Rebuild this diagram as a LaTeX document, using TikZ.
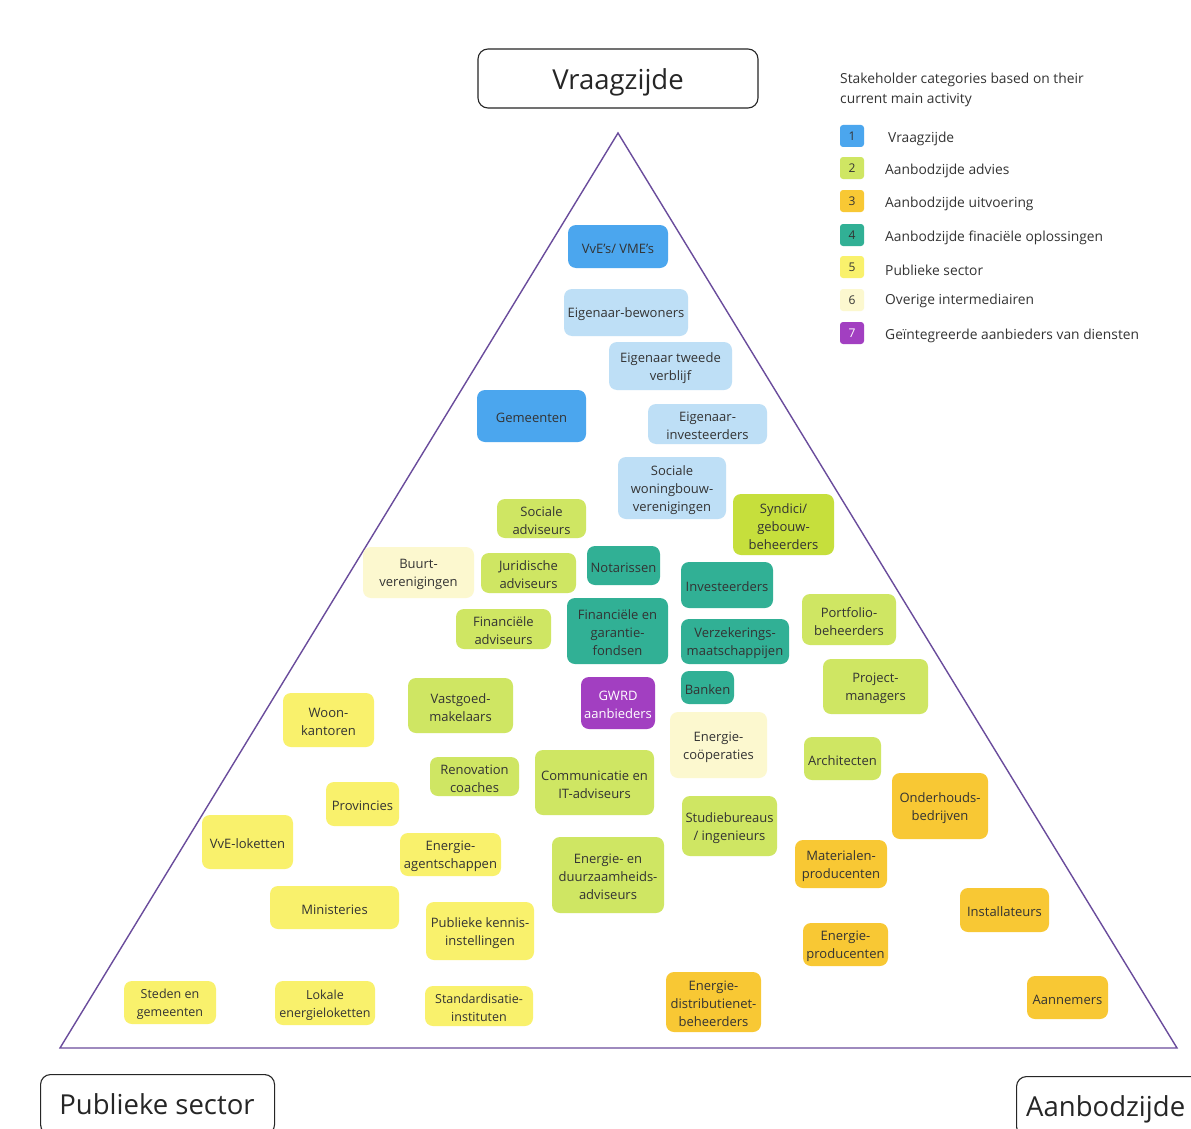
\documentclass[tikz,border=0pt]{standalone}
\usepackage{fontspec}
\setmainfont{Open Sans}
\definecolor{cBlue}{HTML}{4BA6EE}
\definecolor{cLBlue}{HTML}{BEDFF6}
\definecolor{cLime}{HTML}{CFE663}
\definecolor{cLime2}{HTML}{C6DF3C}
\definecolor{cOrange}{HTML}{F8C834}
\definecolor{cTeal}{HTML}{31B095}
\definecolor{cYellow}{HTML}{F9F16C}
\definecolor{cPale}{HTML}{FCF8CF}
\definecolor{cPurple}{HTML}{A23FC1}
\definecolor{cText}{HTML}{333333}
\definecolor{cTri}{HTML}{6A4C9C}
\tikzset{
  box/.style={rounded corners=8pt, inner sep=0pt},
  boxtext/.style={inner sep=0pt, align=center, text=cText,
    font=\fontsize{13}{18}\selectfont},
  title/.style={draw=black!85, line width=1.1pt, rounded corners=10pt, inner sep=0pt},
  titletext/.style={text=black!85, font=\fontsize{27.5}{32}\selectfont, inner sep=0pt},
  legsq/.style={rounded corners=3pt, minimum width=24pt, minimum height=22pt, inner sep=0pt,
    text=cText, font=\fontsize{12}{14}\selectfont},
  legtx/.style={anchor=west, inner sep=0pt, text=cText, font=\fontsize{13.8}{16}\selectfont},
}
% name, x1,y1,x2,y2, fill-style, text-style, text
\newcommand\bx[8]{%
  \pgfmathsetmacro\cx{(#2+#4)/2}\pgfmathsetmacro\cy{(#3+#5)/2}%
  \pgfmathsetmacro\ww{#4-#2}\pgfmathsetmacro\hh{#5-#3}%
  \node[box,#6,minimum width=\ww pt,minimum height=\hh pt] (#1) at (\cx,\cy) {};
  \node[boxtext,#7] (#1t) at ([yshift=-2pt]#1.center) {#8};}
\begin{document}
\begin{tikzpicture}[x=1pt,y=-1pt]
\useasboundingbox (0,0) rectangle (1191,1129);
\clip (0,0) rectangle (1191,1129);
\fill[white] (0,0) rectangle (1191,1129);
% triangle
\coordinate (apex) at (618,133);
\coordinate (bl) at (60,1048);
\coordinate (br) at (1177,1048);
\draw[cTri, line width=1.4pt, line join=miter] (apex) -- (bl) -- (br) -- cycle;
% titles
\node[title, minimum width=280pt, minimum height=59pt] (tV) at (618,78.5) {};
\node[titletext] (tVt) at ([yshift=-3.5pt]tV.center) {Vraagzijde};
\node[title, minimum width=234pt, minimum height=60pt, anchor=north west] (tP) at (40,1074) {};
\node[titletext, anchor=base] (tPt) at (157,1114) {Publieke sector};
\node[title, minimum width=200pt, minimum height=60pt, anchor=north west] (tA) at (1016,1076) {};
\node[titletext, anchor=base west] (tAt) at (1026,1116) {Aanbodzijde};
% legend
\node[legtx, anchor=north west, align=left, font=\fontsize{13.8}{20}\selectfont] (lgT) at (840,73) {Stakeholder categories based on their\\current main activity};
\node[legsq, fill=cBlue] (l1) at (852,136) {1};
\node[legsq, fill=cLime] (l2) at (852,168) {2};
\node[legsq, fill=cOrange] (l3) at (852,201) {3};
\node[legsq, fill=cTeal] (l4) at (852,235) {4};
\node[legsq, fill=cYellow] (l5) at (852,267) {5};
\node[legsq, fill=cPale] (l6) at (852,300) {6};
\node[legsq, fill=cPurple, text=white] (l7) at (852,333) {7};
\node[legtx] (t1) at (888,139) {Vraagzijde};
\node[legtx] (t2) at (885,171) {Aanbodzijde advies};
\node[legtx] (t3) at (885,204) {Aanbodzijde uitvoering};
\node[legtx] (t4) at (885,238) {Aanbodzijde finaciële oplossingen};
\node[legtx] (t5) at (885,270) {Publieke sector};
\node[legtx] (t6) at (885,301) {Overige intermediairen};
\node[legtx] (t7) at (885,336) {Geïntegreerde aanbieders van diensten};
% boxes
\bx{b1}{568}{225}{668}{268}{fill=cBlue}{}{VvE's/ VME's}
\bx{b2}{564}{289}{688}{336}{fill=cLBlue}{}{Eigenaar-bewoners}
\bx{b3}{609}{342}{732}{390}{fill=cLBlue}{}{Eigenaar tweede\\verblijf}
\bx{b4}{477}{390}{586}{442}{fill=cBlue}{}{Gemeenten}
\bx{b5}{648}{404}{767}{444}{fill=cLBlue}{}{Eigenaar-\\investeerders}
\bx{b6}{618}{457}{726}{519}{fill=cLBlue}{}{Sociale\\woningbouw-\\verenigingen}
\bx{b7}{733}{494}{834}{555}{fill=cLime2}{}{Syndici/\\gebouw-\\beheerders}
\bx{b8}{497}{499}{586}{538}{fill=cLime}{}{Sociale\\adviseurs}
\bx{b9}{363}{547}{474}{598}{fill=cPale}{}{Buurt-\\verenigingen}
\bx{b10}{481}{553}{576}{593}{fill=cLime}{}{Juridische\\adviseurs}
\bx{b11}{587}{546}{660}{585}{fill=cTeal}{}{Notarissen}
\bx{b12}{681}{562}{773}{608}{fill=cTeal}{}{Investeerders}
\bx{b13}{456}{609}{551}{649}{fill=cLime}{}{Financiële\\adviseurs}
\bx{b14}{567}{598}{668}{664}{fill=cTeal}{}{Financiële en\\garantie-\\fondsen}
\bx{b15}{681}{619}{789}{664}{fill=cTeal}{}{Verzekerings-\\maatschappijen}
\bx{b16}{802}{594}{896}{645}{fill=cLime}{}{Portfolio-\\beheerders}
\bx{b17}{681}{671}{734}{704}{fill=cTeal}{}{Banken}
\bx{b18}{581}{677}{655}{729}{fill=cPurple}{text=white}{GWRD\\aanbieders}
\bx{b19}{823}{659}{928}{714}{fill=cLime}{}{Project-\\managers}
\bx{b20}{283}{693}{374}{747}{fill=cYellow}{}{Woon-\\kantoren}
\bx{b21}{408}{678}{513}{733}{fill=cLime}{}{Vastgoed-\\makelaars}
\bx{b22}{670}{712}{767}{778}{fill=cPale}{}{Energie-\\coöperaties}
\bx{b23}{430}{757}{519}{796}{fill=cLime}{}{Renovation\\coaches}
\bx{b24}{535}{750}{654}{815}{fill=cLime}{}{Communicatie en\\IT-adviseurs}
\bx{b25}{804}{737}{881}{780}{fill=cLime}{}{Architecten}
\bx{b26}{326}{782}{399}{826}{fill=cYellow}{}{Provincies}
\bx{b27}{892}{773}{988}{839}{fill=cOrange}{}{Onderhouds-\\bedrijven}
\bx{b28}{202}{815}{293}{869}{fill=cYellow}{}{VvE-loketten}
\bx{b29}{682}{796}{777}{856}{fill=cLime}{}{Studiebureaus\\/ ingenieurs}
\bx{b30}{400}{833}{501}{876}{fill=cYellow}{}{Energie-\\agentschappen}
\bx{b31}{552}{837}{664}{913}{fill=cLime}{}{Energie- en\\duurzaamheids-\\adviseurs}
\bx{b32}{795}{840}{887}{888}{fill=cOrange}{}{Materialen-\\producenten}
\bx{b33}{270}{886}{399}{929}{fill=cYellow}{}{Ministeries}
\bx{b34}{426}{902}{534}{960}{fill=cYellow}{}{Publieke kennis-\\instellingen}
\bx{b35}{960}{888}{1049}{932}{fill=cOrange}{}{Installateurs}
\bx{b36}{803}{923}{888}{966}{fill=cOrange}{}{Energie-\\producenten}
\bx{b37}{124}{981}{216}{1024}{fill=cYellow}{font=\fontsize{12.5}{18}\selectfont}{Steden en\\gemeenten}
\bx{b38}{275}{981}{375}{1025}{fill=cYellow}{font=\fontsize{12.5}{18}\selectfont}{Lokale\\energieloketten}
\bx{b39}{425}{986}{533}{1026}{fill=cYellow}{font=\fontsize{12.5}{18}\selectfont}{Standardisatie-\\instituten}
\bx{b40}{666}{972}{761}{1032}{fill=cOrange}{}{Energie-\\distributienet-\\beheerders}
\bx{b41}{1027}{976}{1108}{1019}{fill=cOrange}{}{Aannemers}
\end{tikzpicture}
\end{document}
